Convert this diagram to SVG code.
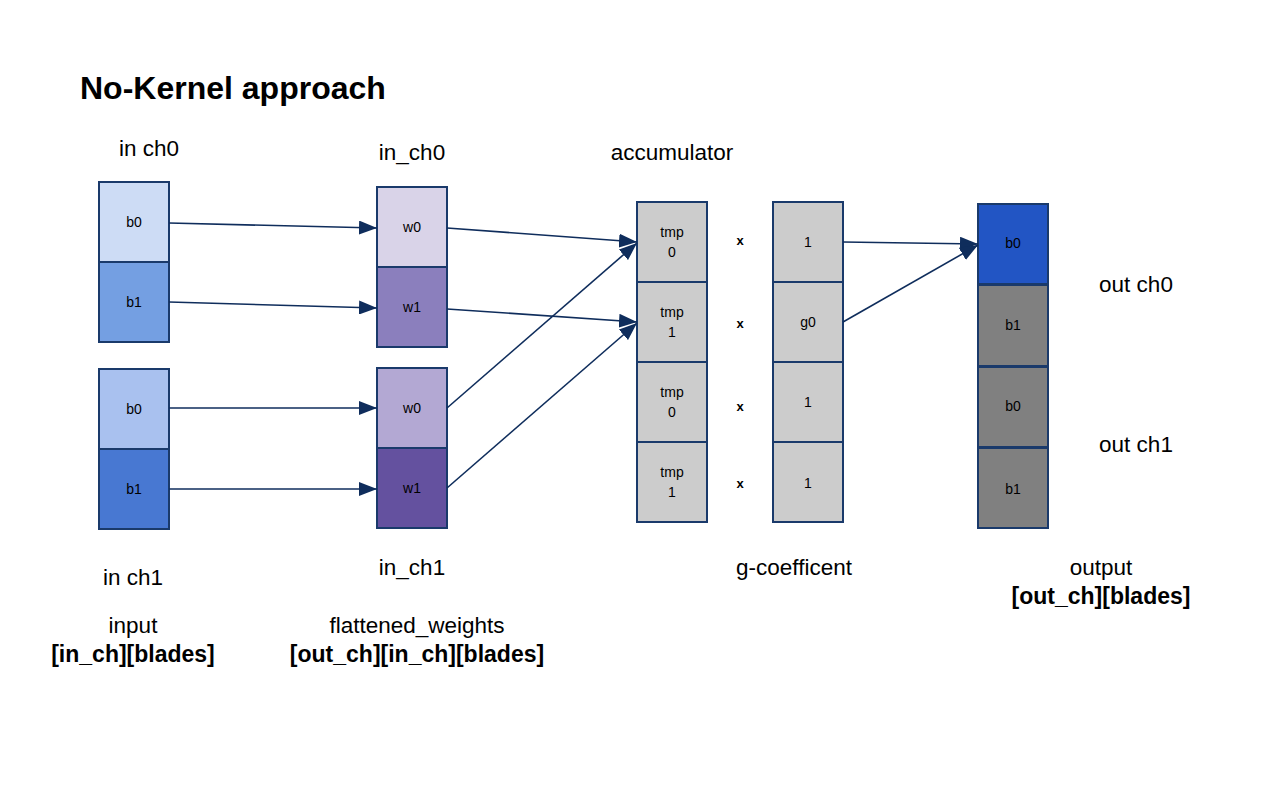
<svg xmlns="http://www.w3.org/2000/svg" width="1278" height="799" viewBox="0 0 1278 799">
<style>
text{font-family:"Liberation Sans",Arial,sans-serif;fill:#000}
.c rect{stroke:#1a3a6b;stroke-width:2}
.s{font-size:14px;text-anchor:middle}
.l{font-size:22.5px;text-anchor:middle}
.b{font-size:23px;font-weight:bold;text-anchor:middle}
.x{font-size:13px;font-weight:bold;text-anchor:middle}
#conn line{stroke:#0f2d5c;stroke-width:1.6;marker-end:url(#a2)}
</style>
<defs>
<marker id="a2" markerWidth="18" markerHeight="14" refX="18" refY="7" orient="auto" markerUnits="userSpaceOnUse"><path d="M0,0L18,7L0,14Z" fill="#0f2d5c"/></marker></defs>
<rect width="1278" height="799" fill="#fff"/>
<text x="80" y="99" style="font-size:32px;font-weight:bold">No-Kernel approach</text>
<g id="input" class="c">
<rect x="99" y="182" width="70" height="80" fill="#cddcf5"/><text class="s" x="134" y="227">b0</text>
<rect x="99" y="262" width="70" height="80" fill="#749fe2"/><text class="s" x="134" y="307">b1</text>
<rect x="99" y="369" width="70" height="80" fill="#a9c1ef"/><text class="s" x="134" y="414">b0</text>
<rect x="99" y="449" width="70" height="80" fill="#4878d2"/><text class="s" x="134" y="494">b1</text>
</g>
<g id="weights" class="c">
<rect x="377" y="187" width="70" height="80" fill="#d9d3e8"/><text class="s" x="412" y="232">w0</text>
<rect x="377" y="267" width="70" height="80" fill="#8b7fbd"/><text class="s" x="412" y="312">w1</text>
<rect x="377" y="368" width="70" height="80" fill="#b3a8d3"/><text class="s" x="412" y="413">w0</text>
<rect x="377" y="448" width="70" height="80" fill="#64519f"/><text class="s" x="412" y="493">w1</text>
</g>
<g id="accumulator" class="c">
<rect x="637" y="202" width="70" height="80" fill="#cccccc"/><text class="s" x="672" y="237">tmp</text><text class="s" x="672" y="257">0</text>
<rect x="637" y="282" width="70" height="80" fill="#cccccc"/><text class="s" x="672" y="317">tmp</text><text class="s" x="672" y="337">1</text>
<rect x="637" y="362" width="70" height="80" fill="#cccccc"/><text class="s" x="672" y="397">tmp</text><text class="s" x="672" y="417">0</text>
<rect x="637" y="442" width="70" height="80" fill="#cccccc"/><text class="s" x="672" y="477">tmp</text><text class="s" x="672" y="497">1</text>
</g>
<g id="times">
<text class="x" x="740" y="245">x</text><text class="x" x="740" y="328">x</text><text class="x" x="740" y="411">x</text><text class="x" x="740" y="488">x</text>
</g>
<g id="gcoef" class="c">
<rect x="773" y="202" width="70" height="80" fill="#cccccc"/><text class="s" x="808" y="247">1</text>
<rect x="773" y="282" width="70" height="80" fill="#cccccc"/><text class="s" x="808" y="327">g0</text>
<rect x="773" y="362" width="70" height="80" fill="#cccccc"/><text class="s" x="808" y="407">1</text>
<rect x="773" y="442" width="70" height="80" fill="#cccccc"/><text class="s" x="808" y="488">1</text>
</g>
<g id="output" class="c">
<rect x="978" y="204" width="70" height="80" fill="#2255c4"/><text class="s" x="1013" y="248">b0</text>
<rect x="978" y="285" width="70" height="81" fill="#808080"/><text class="s" x="1013" y="330">b1</text>
<rect x="978" y="367" width="70" height="80" fill="#808080"/><text class="s" x="1013" y="411">b0</text>
<rect x="978" y="448" width="70" height="80" fill="#808080"/><text class="s" x="1013" y="494">b1</text>
</g>
<g id="conn">
<line x1="169" y1="223" x2="377" y2="228"/>
<line x1="169" y1="302" x2="377" y2="308"/>
<line x1="169" y1="408" x2="377" y2="408"/>
<line x1="169" y1="489" x2="377" y2="489"/>
<line x1="447" y1="228" x2="637" y2="242"/>
<line x1="447" y1="309" x2="637" y2="322"/>
<line x1="447" y1="408" x2="637" y2="243"/>
<line x1="447" y1="488" x2="637" y2="323"/>
<line x1="843" y1="242" x2="978" y2="244"/>
<line x1="843" y1="322" x2="978" y2="245"/>
</g>
<g id="labels">
<text class="l" x="149" y="156">in ch0</text>
<text class="l" x="412" y="160">in_ch0</text>
<text class="l" x="672" y="160">accumulator</text>
<text class="l" x="1136" y="292">out ch0</text>
<text class="l" x="1136" y="452">out ch1</text>
<text class="l" x="133" y="585">in ch1</text>
<text class="l" x="412" y="575">in_ch1</text>
<text class="l" x="794" y="575">g-coefficent</text>
<text class="l" x="1101" y="575">output</text>
<text class="b" x="1101" y="604">[out_ch][blades]</text>
<text class="l" x="133" y="633">input</text>
<text class="b" x="133" y="662">[in_ch][blades]</text>
<text class="l" x="417" y="633">flattened_weights</text>
<text class="b" x="417" y="662">[out_ch][in_ch][blades]</text>
</g>
</svg>
